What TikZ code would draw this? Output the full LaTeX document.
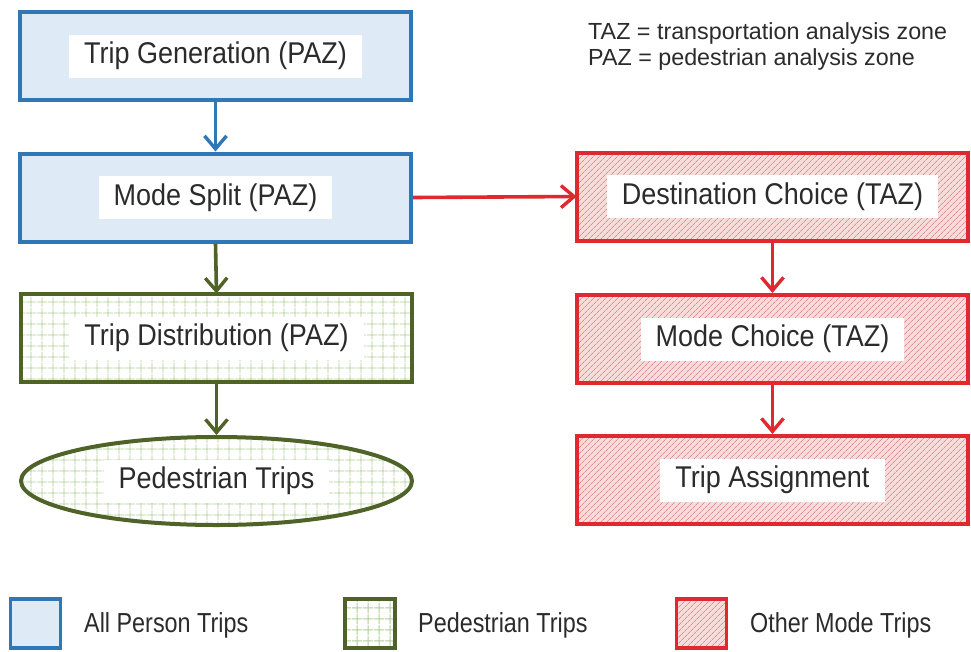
\documentclass[tikz,border=0pt]{standalone}
\usepackage{fontspec}
\setmainfont{Liberation Sans}
\newfontfamily\lblfont[FakeStretch=0.9]{Liberation Sans}
\newfontfamily\legfont[FakeStretch=0.85]{Liberation Sans}
\usetikzlibrary{shapes.geometric,arrows.meta,patterns.meta}
\definecolor{bblue}{HTML}{2E78B8}
\definecolor{bfill}{HTML}{DEEBF7}
\definecolor{ggreen}{HTML}{4F6228}
\definecolor{ggrid}{HTML}{B0CF98}
\definecolor{rred}{HTML}{E0282E}
\definecolor{rfill}{HTML}{F7DCDC}
\definecolor{rhatch}{HTML}{E28C8C}
\definecolor{txt}{HTML}{2B2B2B}
\begin{document}
\begin{tikzpicture}[x=1pt,y=-1pt,
  box/.style={draw, line width=4pt, minimum width=391pt, minimum height=88pt, inner sep=0pt},
  allbox/.style={box, draw=bblue, fill=bfill},
  pedbox/.style={box, draw=ggreen, preaction={fill=white}, pattern={Hatch[distance=10.5pt,line width=0.9pt]}, pattern color=ggrid},
  othbox/.style={box, draw=rred, preaction={fill=rfill}, pattern={Lines[angle=45,distance=4pt,line width=0.7pt]}, pattern color=rhatch},
  lbl/.style={fill=white, text=txt, font=\lblfont\fontsize{30}{34}\selectfont, inner xsep=15pt, inner ysep=6pt, text height=23pt, text depth=8pt},
  note/.style={text=txt, font=\fontsize{23.3}{26}\selectfont, anchor=west, inner sep=0pt},
  legtxt/.style={text=txt, font=\legfont\fontsize{27.5}{30}\selectfont, anchor=west, inner sep=0pt},
  swatch/.style={minimum width=50pt, minimum height=49pt, line width=3.5pt},
  barrow/.style={line width=3.6pt, draw=bblue, -{Straight Barb[length=13pt,width=22pt,line width=3.4pt]}},
  garrow/.style={barrow, draw=ggreen},
  rarrow/.style={barrow, draw=rred}
]
\useasboundingbox (0,0) rectangle (971,651);
\fill[white] (0,0) rectangle (971,651);

% left column
\node[allbox] (tg) at (215.5,56) {};
\node[lbl] (tgl) at (tg.center) {Trip Generation (PAZ)};
\node[allbox] (ms) at (215.5,197.5) {};
\node[lbl] (msl) at (ms.center) {Mode Split (PAZ)};
\node[pedbox] (td) at (216.5,338) {};
\node[lbl] (tdl) at (td.center) {Trip Distribution (PAZ)};
\node[pedbox, ellipse, minimum width=391pt, minimum height=88pt] (pt) at (216.5,481) {};
\node[lbl] (ptl) at (pt.center) {Pedestrian Trips};

% right column
\node[othbox] (dc) at (772.5,196.5) {};
\node[lbl] (dcl) at (dc.center) {Destination Choice (TAZ)};
\node[othbox] (mc) at (772.5,339) {};
\node[lbl] (mcl) at (mc.center) {Mode Choice (TAZ)};
\node[othbox] (ta) at (772.5,480) {};
\node[lbl] (tal) at (ta.center) {Trip Assignment};

% connectors
\draw[barrow] (tg.south) -- (ms.north);
\draw[garrow] (ms.south) -- (td.north);
\draw[garrow] (td.south) -- (pt.north);
\draw[rarrow] (ms.east) -- (dc.west);
\draw[rarrow] (dc.south) -- (mc.north);
\draw[rarrow] (mc.south) -- (ta.north);

% note
\node[note] (n1) at (588,33) {TAZ = transportation analysis zone};
\node[note] (n2) at (588,59) {PAZ = pedestrian analysis zone};

% legend
\node[allbox, swatch] (s1) at (35.5,623.5) {};
\node[legtxt] (l1) at (84,625) {All Person Trips};
\node[pedbox, swatch] (s2) at (370,623.5) {};
\node[legtxt] (l2) at (418,625) {Pedestrian Trips};
\node[othbox, swatch] (s3) at (701.5,623.5) {};
\node[legtxt] (l3) at (750,625) {Other Mode Trips};
\end{tikzpicture}
\end{document}
